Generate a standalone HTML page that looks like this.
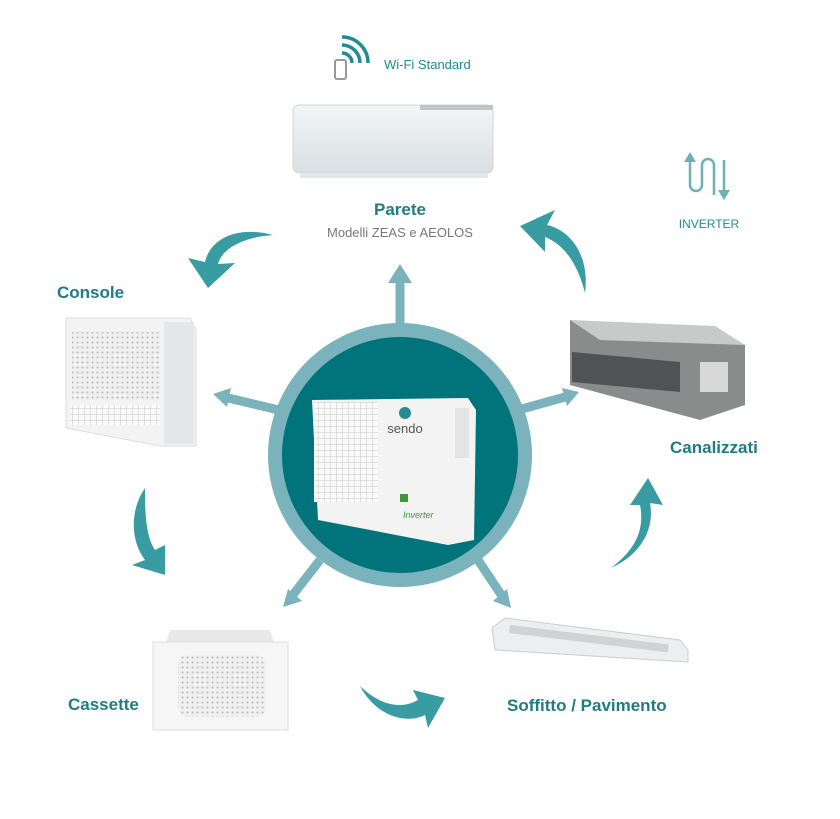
<!DOCTYPE html>
<html><head><meta charset="utf-8"><style>
body{margin:0;background:#fff;width:840px;height:814px;overflow:hidden;font-family:"Liberation Sans",sans-serif}
</style></head><body>
<svg width="840" height="814" viewBox="0 0 840 814" xmlns="http://www.w3.org/2000/svg">
<defs>
<linearGradient id="wg" x1="0" y1="0" x2="0" y2="1"><stop offset="0" stop-color="#f4f6f7"/><stop offset="1" stop-color="#d9dfe2"/></linearGradient>
<pattern id="grid" width="5" height="5" patternUnits="userSpaceOnUse"><rect width="5" height="5" fill="#f0f0f0"/><circle cx="2.5" cy="2.5" r="1" fill="#b8b8b8"/></pattern>
<pattern id="grill" width="6" height="6" patternUnits="userSpaceOnUse"><rect width="6" height="6" fill="#fafafa"/><path d="M0 0H6M0 0V6" stroke="#c8c8c8" stroke-width="1"/></pattern>
</defs>
<!-- connectors -->
<g stroke="#7ab3bb" stroke-width="9" fill="none">
<line x1="400" y1="330" x2="400" y2="280"/>
<line x1="300" y1="415" x2="228" y2="398"/>
<line x1="500" y1="415" x2="565" y2="397"/>
<line x1="320" y1="560" x2="292" y2="596"/>
<line x1="478" y1="560" x2="502" y2="596"/>
</g>
<g fill="#7ab3bb">
<polygon points="400,264 388,283 412,283"/>
<polygon points="213,394 231,388 227,407"/>
<polygon points="579,392 562,388 567,406"/>
<polygon points="283,607 288,589 302,601"/>
<polygon points="511,608 493,601 507,589"/>
</g>
<circle cx="400" cy="455" r="132" fill="#7ab3bb"/>
<circle cx="400" cy="455" r="118" fill="#00737b"/>
<!-- outdoor unit -->
<polygon points="312,400 468,398 476,410 474,540 448,545 318,520" fill="#f3f3f3"/>
<rect x="314" y="402" width="64" height="100" fill="url(#grill)"/>
<rect x="455" y="408" width="14" height="50" fill="#e4e4e4"/>
<circle cx="405" cy="413" r="6" fill="#2a8a90"/>
<text x="405" y="433" font-size="13" fill="#555" text-anchor="middle" font-family="Liberation Sans">sendo</text>
<text x="403" y="518" font-size="9" fill="#3a9a3a" font-style="italic">Inverter</text>
<rect x="400" y="494" width="8" height="8" fill="#3a9a3a"/>
<!-- wifi -->
<rect x="335" y="60" width="11" height="19" rx="2" fill="none" stroke="#999" stroke-width="2"/>
<g fill="none" stroke="#1f8c93" stroke-width="3.5">
<path d="M342 53 A10 10 0 0 1 352 63"/>
<path d="M342 45 A18 18 0 0 1 360 63"/>
<path d="M342 37 A26 26 0 0 1 368 63"/>
</g>
<text x="384" y="69" font-size="13" fill="#1f8c93">Wi-Fi Standard</text>
<!-- wall unit -->
<rect x="293" y="105" width="200" height="68" rx="6" fill="url(#wg)" stroke="#d0d5d8"/>
<rect x="420" y="105" width="73" height="5" fill="#c0c4c6"/>
<rect x="300" y="173" width="188" height="5" fill="#e3e7e9"/>
<text x="400" y="215" font-size="17" font-weight="bold" fill="#1f7c84" text-anchor="middle">Parete</text>
<text x="400" y="237" font-size="13" fill="#777" text-anchor="middle">Modelli ZEAS e AEOLOS</text>
<!-- inverter icon -->
<g fill="none" stroke="#6db0b6" stroke-width="2.5">
<path d="M690 160 V185 A6 6 0 0 0 702 185 V165 A6 6 0 0 1 714 165 V195"/>
<path d="M724 160 V195"/>
</g>
<polygon points="690,152 684,162 696,162" fill="#6db0b6"/>
<polygon points="724,200 718,190 730,190" fill="#6db0b6"/>
<text x="709" y="228" font-size="12" fill="#1f8c93" text-anchor="middle">INVERTER</text>
<!-- console -->
<text x="57" y="298" font-size="17" font-weight="bold" fill="#1f7c84">Console</text>
<polygon points="66,318 190,318 196,330 196,446 160,446 66,428" fill="#f3f3f3" stroke="#ddd"/>
<rect x="72" y="332" width="88" height="68" fill="url(#grid)"/>
<rect x="70" y="405" width="90" height="20" fill="url(#grill)"/>
<rect x="164" y="322" width="30" height="122" fill="#e4e6e7"/>
<!-- canalizzati -->
<polygon points="570,320 720,330 745,345 745,405 700,420 570,385" fill="#8a8c8c"/>
<polygon points="570,320 715,326 745,345 600,340" fill="#c8caca"/>
<polygon points="572,352 680,362 680,392 572,382" fill="#505253"/>
<rect x="700" y="362" width="28" height="30" fill="#d8d8d8"/>
<text x="670" y="453" font-size="17" font-weight="bold" fill="#1f7c84">Canalizzati</text>
<!-- cassette -->
<polygon points="170,630 270,630 274,642 166,642" fill="#e8e8e8"/>
<rect x="153" y="642" width="135" height="88" fill="#f6f6f6" stroke="#ddd"/>
<rect x="178" y="655" width="88" height="62" rx="10" fill="url(#grid)"/>
<text x="68" y="710" font-size="17" font-weight="bold" fill="#1f7c84">Cassette</text>
<!-- soffitto -->
<polygon points="505,618 680,640 688,650 688,662 495,650 492,628" fill="#eceeef" stroke="#ccc"/>
<rect x="510" y="625" width="160" height="8" fill="#d0d2d3" transform="rotate(7 510 625)"/>
<text x="507" y="711" font-size="17" font-weight="bold" fill="#1f7c84">Soffitto / Pavimento</text>
<!-- curved arrows -->
<g fill="#3a9ca3">
<path d="M273 235 C235 225 210 240 205 262 L188 258 L208 288 L235 263 L218 264 C222 248 245 237 273 235 Z"/>
<path d="M585 293 C590 255 570 230 547 225 L555 210 L520 226 L545 252 L545 237 C565 245 578 265 585 293 Z"/>
<path d="M145 488 C130 510 130 540 145 560 L132 565 L165 575 L165 545 L155 550 C145 535 145 508 145 488 Z"/>
<path d="M611 568 C640 555 655 530 650 503 L663 505 L648 478 L630 505 L640 505 C645 530 635 550 611 568 Z"/>
<path d="M360 686 C375 715 405 725 425 715 L428 728 L445 698 L413 690 L418 700 C400 710 380 705 360 686 Z"/>
</g>
</svg>
</body></html>
